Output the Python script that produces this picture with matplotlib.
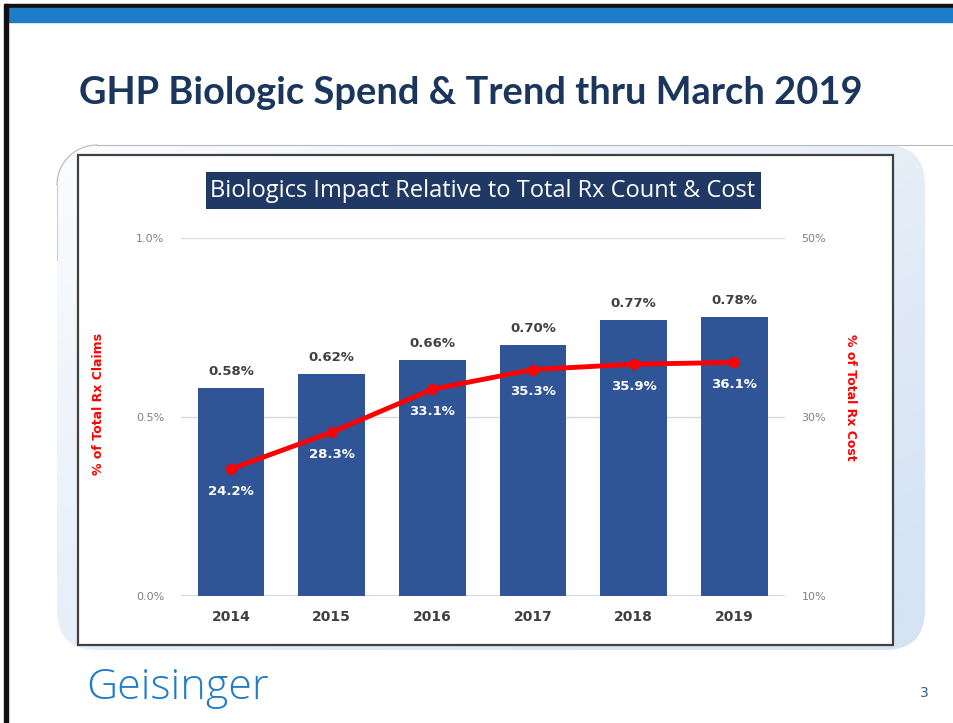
import numpy as np
import matplotlib.pyplot as plt
from matplotlib.patches import FancyBboxPatch, Rectangle
from matplotlib.colors import LinearSegmentedColormap

years = ['2014', '2015', '2016', '2017', '2018', '2019']
claims_pct = [0.58, 0.62, 0.66, 0.70, 0.77, 0.78]   # % of total Rx claims (left axis)
cost_pct = [24.2, 28.3, 33.1, 35.3, 35.9, 36.1]     # % of total Rx cost (right axis)

navy = '#1f3864'
bar_col = '#2f5597'
red = '#ff0000'
grey_txt = '#808080'
dark_txt = '#404040'

W, H = 954, 723
fig = plt.figure(figsize=(W / 100, H / 100), dpi=100)
fig.patch.set_facecolor('white')

# slide decoration, in pixel coords on a background axes
bg = fig.add_axes([0, 0, 1, 1])
bg.set_xlim(0, W)
bg.set_ylim(H, 0)
bg.axis('off')
bg.add_patch(Rectangle((5, 4), W, 4, color='#111111'))
bg.add_patch(Rectangle((8, 8), W, 14, color='#1e7cc8'))
bg.add_patch(Rectangle((4, 4), 4, H, color='#111111'))

# light gradient panel behind the chart
panel = FancyBboxPatch((57 + 40, 145 + 40), 868 - 80, 505 - 80,
                       boxstyle='round,pad=40', fc='none', ec='none')
bg.add_patch(panel)
gx, gy = np.meshgrid(np.linspace(0, 1, 200), np.linspace(0, 1, 200))
grad = np.clip(0.55 * gx + 0.55 * gy, 0, 1)
cmap = LinearSegmentedColormap.from_list('pn', ['#fbfcfe', '#d5e3f3'])
im = bg.imshow(grad, cmap=cmap, extent=(57, 925, 650, 145), aspect='auto', zorder=0.5)
im.set_clip_path(panel)
bg.set_xlim(0, W)
bg.set_ylim(H, 0)
# thin grey edge on the top-left of the panel
t = np.linspace(np.pi / 2, np.pi, 40)
bg.plot(97 + 40 * np.cos(t), 185 - 40 * np.sin(t), color='#b8b8b8', lw=0.8)
bg.plot([97, W], [145, 145], color='#b8b8b8', lw=0.8)
bg.plot([57, 57], [185, 260], color='#d0d0d0', lw=0.8)

bg.add_patch(Rectangle((78, 155), 815, 490, fc='white', ec='#404040', lw=1.6, zorder=2))
bg.add_patch(Rectangle((206, 172), 555, 37, fc=navy, ec='none', zorder=3))
bg.text(483, 191, 'Biologics Impact Relative to Total Rx Count & Cost',
        color='white', fontsize=17, ha='center', va='center', family='Open Sans', zorder=4)
bg.text(79, 93, 'GHP Biologic Spend & Trend thru March 2019', color='#1b365d',
        fontsize=27.4, fontweight='bold', ha='left', va='center', family='Lato')
bg.text(86, 688, 'Geisinger', color='#1e7cc8', fontsize=31, ha='left',
        va='center', family='Open Sans', fontweight='light')
bg.text(924, 693, '3', color='#2f5f8f', fontsize=10, ha='center', va='center')

# chart axes
ax = fig.add_axes([180.7 / W, (H - 596) / H, 604 / W, 358 / H])
x = np.arange(len(years))
ax.bar(x, claims_pct, width=0.66, color=bar_col, zorder=2)
ax.set_xlim(-0.5, 5.5)
ax.set_ylim(0, 1.0)
ax.set_yticks([0, 0.5, 1.0])
ax.set_yticklabels(['0.0%', '0.5%', '1.0%'])
ax.grid(axis='y', color='#d9d9d9', lw=1, zorder=0)
for s in ax.spines.values():
    s.set_visible(False)
ax.tick_params(axis='y', length=0, pad=12, labelsize=8, labelcolor=grey_txt)
ax.tick_params(axis='x', length=0, pad=10)
ax.set_xticks(x)
ax.set_xticklabels(years, fontsize=10, fontweight='bold', color=dark_txt)
ax.axhline(0, color='#d9d9d9', lw=1.5, zorder=1)
for xi, v in zip(x, claims_pct):
    ax.annotate(f'{v:.2f}%', (xi, v), xytext=(0, 12), textcoords='offset points',
                ha='center', va='center', fontsize=9.5, fontweight='bold', color=dark_txt)
ax.set_ylabel('% of Total Rx Claims', color=red, fontweight='bold', fontsize=9)
ax.yaxis.set_label_coords(-0.126, 0.535)

ax2 = ax.twinx()
ax2.set_ylim(10, 50)
ax2.set_yticks([10, 30, 50])
ax2.set_yticklabels(['10%', '30%', '50%'])
for s in ax2.spines.values():
    s.set_visible(False)
ax2.tick_params(axis='y', length=0, pad=12, labelsize=8, labelcolor=grey_txt)
ax2.plot(x, cost_pct, color=red, lw=3.5, marker='o', ms=7, mfc=red, mec=red, zorder=3)
for xi, v in zip(x, cost_pct):
    ax2.annotate(f'{v:.1f}%', (xi, v), xytext=(0, -16), textcoords='offset points',
                 ha='center', va='center', fontsize=9.5, fontweight='bold', color='white')
ax2.set_ylabel('% of Total Rx Cost', color=red, fontweight='bold', fontsize=9, rotation=270)
ax2.yaxis.set_label_coords(1.12, 0.555)

fig.savefig('out.png', dpi=100)
